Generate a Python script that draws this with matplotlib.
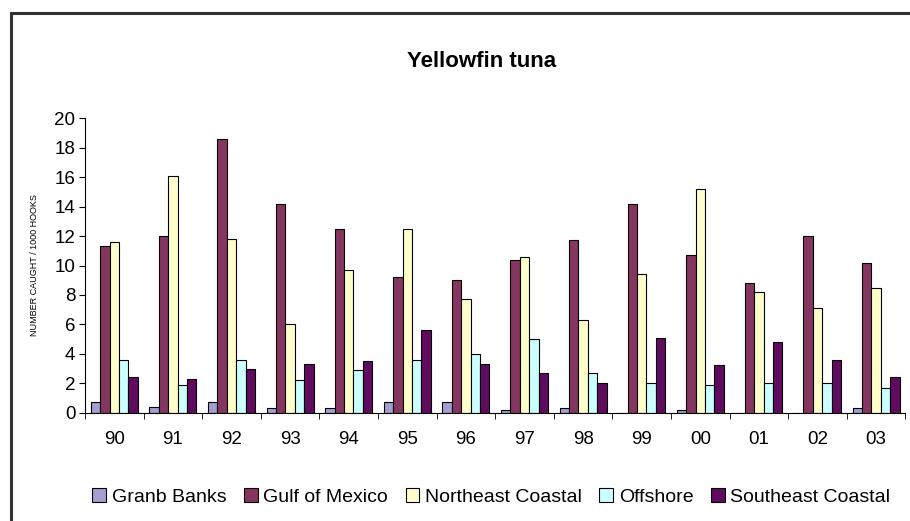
import numpy as np
import matplotlib.pyplot as plt
from matplotlib.patches import Rectangle

plt.rcParams['font.family'] = ['Liberation Sans', 'DejaVu Sans']

years = ['90', '91', '92', '93', '94', '95', '96', '97', '98', '99', '00', '01', '02', '03']
series = ['Granb Banks', 'Gulf of Mexico', 'Northeast Coastal', 'Offshore', 'Southeast Coastal']

grand_banks = [0.7, 0.4, 0.7, 0.35, 0.35, 0.7, 0.7, 0.15, 0.35, 0.0, 0.15, 0.0, 0.0, 0.35]
gulf_mexico = [11.3, 12.0, 18.6, 14.2, 12.5, 9.2, 9.0, 10.4, 11.7, 14.2, 10.7, 8.8, 12.0, 10.2]
northeast   = [11.6, 16.1, 11.8, 6.0, 9.7, 12.5, 7.7, 10.6, 6.3, 9.4, 15.2, 8.2, 7.1, 8.5]
offshore    = [3.6, 1.9, 3.6, 2.2, 2.9, 3.6, 4.0, 5.0, 2.7, 2.05, 1.9, 2.05, 2.05, 1.7]
southeast   = [2.4, 2.3, 2.95, 3.3, 3.5, 5.65, 3.3, 2.7, 2.05, 5.05, 3.25, 4.8, 3.6, 2.4]

colors = ['#a49fd0', '#853660', '#ffffcc', '#ccffff', '#600a60']

fig = plt.figure(figsize=(9.10, 5.21), dpi=100)
ax = fig.add_axes([0.0934, 0.2079, 0.9016, 0.5650])

x = np.arange(len(years))
width = 0.16
data = [grand_banks, gulf_mexico, northeast, offshore, southeast]
for i, (vals, name, c) in enumerate(zip(data, series, colors)):
    ax.bar(x + (i - 2) * width, vals, width=width, color=c, edgecolor='black',
           linewidth=0.8, label=name)

ax.set_xlim(-0.5, len(years) - 0.5)
ax.set_ylim(0, 20)
ax.set_yticks(np.arange(0, 21, 2))
ax.tick_params(axis='y', labelsize=13.5, length=4, direction='out', pad=3)
ax.set_xticks(x)
ax.set_xticklabels(years)
ax.tick_params(axis='x', which='major', length=0, labelsize=13.5, pad=13)
ax.set_xticks(np.arange(-0.5, len(years), 1.0), minor=True)
ax.tick_params(axis='x', which='minor', length=4, direction='out')
ax.spines['top'].set_visible(False)
ax.spines['right'].set_visible(False)
ax.set_ylabel('NUMBER CAUGHT / 1000 HOOKS', fontsize=6.5, labelpad=11)

fig.text(0.529, 0.882, 'Yellowfin tuna', ha='center', va='center',
         fontsize=16, fontweight='bold')

fig.legend(loc='center', bbox_to_anchor=(0.540, 0.046), ncol=5, frameon=False,
           fontsize=14, handlelength=0.7, handleheight=0.7, handletextpad=0.3,
           columnspacing=0.9)

# outer chart frame
fig.add_artist(Rectangle((11 / 910, -0.05), 1.0, 1.05 - 13 / 521,
                         transform=fig.transFigure, fill=False,
                         edgecolor='#333333', linewidth=2.2))

fig.savefig('out.png', dpi=100)
